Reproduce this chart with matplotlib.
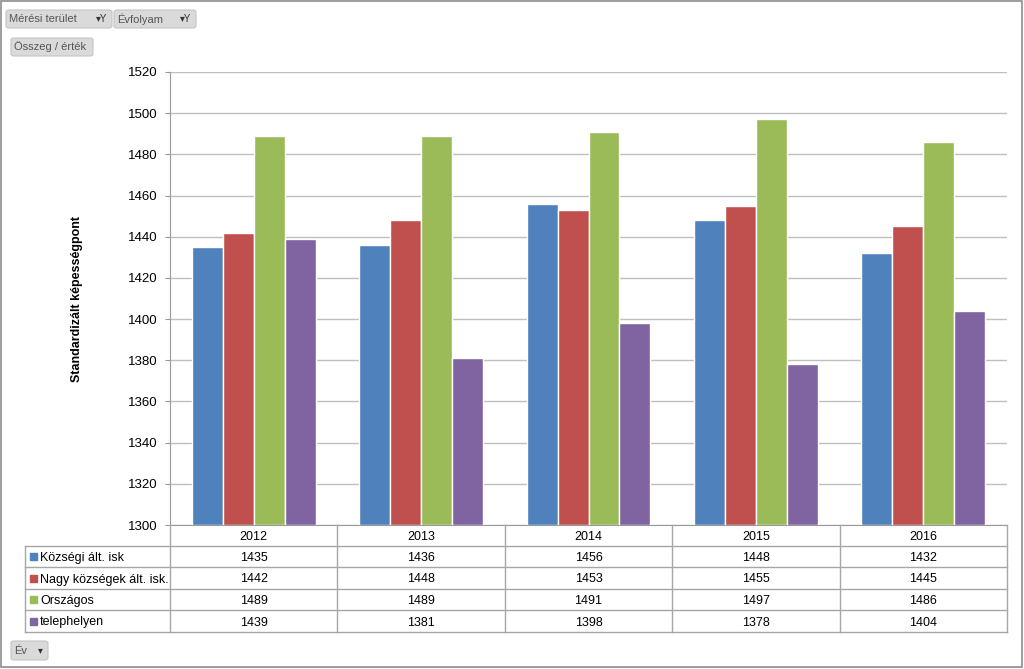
import matplotlib.pyplot as plt
from matplotlib.patches import FancyBboxPatch, Rectangle
from matplotlib.transforms import blended_transform_factory

years = ["2012", "2013", "2014", "2015", "2016"]
series_names = ["Községi ált. isk", "Nagy községek ált. isk.", "Országos", "telephelyen"]
kozsegi = [1435, 1436, 1456, 1448, 1432]
nagy_kozsegek = [1442, 1448, 1453, 1455, 1445]
orszagos = [1489, 1489, 1491, 1497, 1486]
telephelyen = [1439, 1381, 1398, 1378, 1404]
yticks = [1300, 1320, 1340, 1360, 1380, 1400, 1420, 1440, 1460, 1480, 1500, 1520]

series = [kozsegi, nagy_kozsegek, orszagos, telephelyen]
colors = ["#4F81BD", "#C0504D", "#9BBB59", "#8064A2"]

plt.rcParams['font.family'] = ['Liberation Sans', 'DejaVu Sans']

W, H = 1024, 669
fig = plt.figure(figsize=(W / 100, H / 100), dpi=100)


def fx(px):
    return px / W


def fy(py):
    return 1 - py / H


# outer frame
fig.patches.append(Rectangle((fx(1), fy(667)), fx(1021), fy(1) - fy(667),
                             transform=fig.transFigure, fill=False, edgecolor="#8C8C8C", lw=1.2))

ax_left, ax_right, ax_top, ax_bottom = 170, 1007, 72, 525
ax = fig.add_axes([fx(ax_left), fy(ax_bottom), fx(ax_right - ax_left), fy(ax_top) - fy(ax_bottom)])

width = 0.185
for i, (vals, col) in enumerate(zip(series, colors)):
    xs = [g + (i - 1.5) * width for g in range(len(years))]
    ax.bar(xs, [v - 1300 for v in vals], width=width, bottom=1300, color=col,
           edgecolor="white", linewidth=1, zorder=3)

ax.set_xlim(-0.5, len(years) - 0.5)
ax.set_ylim(1300, 1520)
ax.set_yticks(yticks)
ax.set_xticks([])
ax.grid(axis="y", color="#BFBFBF", lw=1, zorder=0)
for s in ["top", "right"]:
    ax.spines[s].set_visible(False)
ax.spines["left"].set_color("#9A9A9A")
ax.spines["bottom"].set_color("#9A9A9A")
ax.tick_params(axis="y", length=3.6, color="#9A9A9A", labelsize=9.5, pad=5.5)
ax.set_ylabel("Standardizált képességpont", fontsize=9, fontweight="bold", labelpad=32)

# data table below the chart
tr = blended_transform_factory(ax.transData, fig.transFigure)
row_lines = [546, 567, 589, 610, 632]
col_lines = [170, 337, 505, 672, 840, 1007]
lc = "#A6A6A6"
for xp in col_lines:
    fig.add_artist(plt.Line2D([fx(xp), fx(xp)], [fy(525), fy(632)], transform=fig.transFigure, color=lc, lw=1))
fig.add_artist(plt.Line2D([fx(25), fx(25)], [fy(546), fy(632)], transform=fig.transFigure, color=lc, lw=1))
for yp in row_lines:
    fig.add_artist(plt.Line2D([fx(25), fx(1007)], [fy(yp), fy(yp)], transform=fig.transFigure, color=lc, lw=1))

for g, yr in enumerate(years):
    fig.text(g, fy(536), yr, transform=tr, ha="center", va="center_baseline", fontsize=9)
for r, (name, vals, col) in enumerate(zip(series_names, series, colors)):
    yc = (row_lines[r] + row_lines[r + 1]) / 2
    fig.patches.append(Rectangle((fx(30), fy(yc + 3.5)), fx(7), fy(yc - 3.5) - fy(yc + 3.5),
                                 transform=fig.transFigure, color=col))
    fig.text(fx(40), fy(yc), name, ha="left", va="center_baseline", fontsize=9)
    for g, v in enumerate(vals):
        fig.text(g, fy(yc), str(v), transform=tr, ha="center", va="center_baseline", fontsize=9)


# pivot field buttons
def button(x0, y0, x1, y1, label, arrow=None):
    fig.patches.append(FancyBboxPatch((fx(x0), fy(y1)), fx(x1 - x0), fy(y0) - fy(y1),
                                      boxstyle="round,pad=0,rounding_size=0.003",
                                      transform=fig.transFigure, facecolor="#DADADA",
                                      edgecolor="#C4C4C4", lw=0.8))
    fig.text(fx(x0 + 3), fy((y0 + y1) / 2), label, ha="left", va="center", fontsize=8, color="#555555")
    if arrow:
        fig.text(fx(x1 - 5), fy((y0 + y1) / 2), arrow, ha="right", va="center", fontsize=7, color="#333333")


button(6, 10, 112, 28, "Mérési terület", "▾Y")
button(114, 10, 196, 28, "Évfolyam", "▾Y")
button(11, 38, 93, 56, "Összeg / érték")
button(11, 641, 48, 660, "Év", "▾")

fig.savefig("out.png", dpi=100)
